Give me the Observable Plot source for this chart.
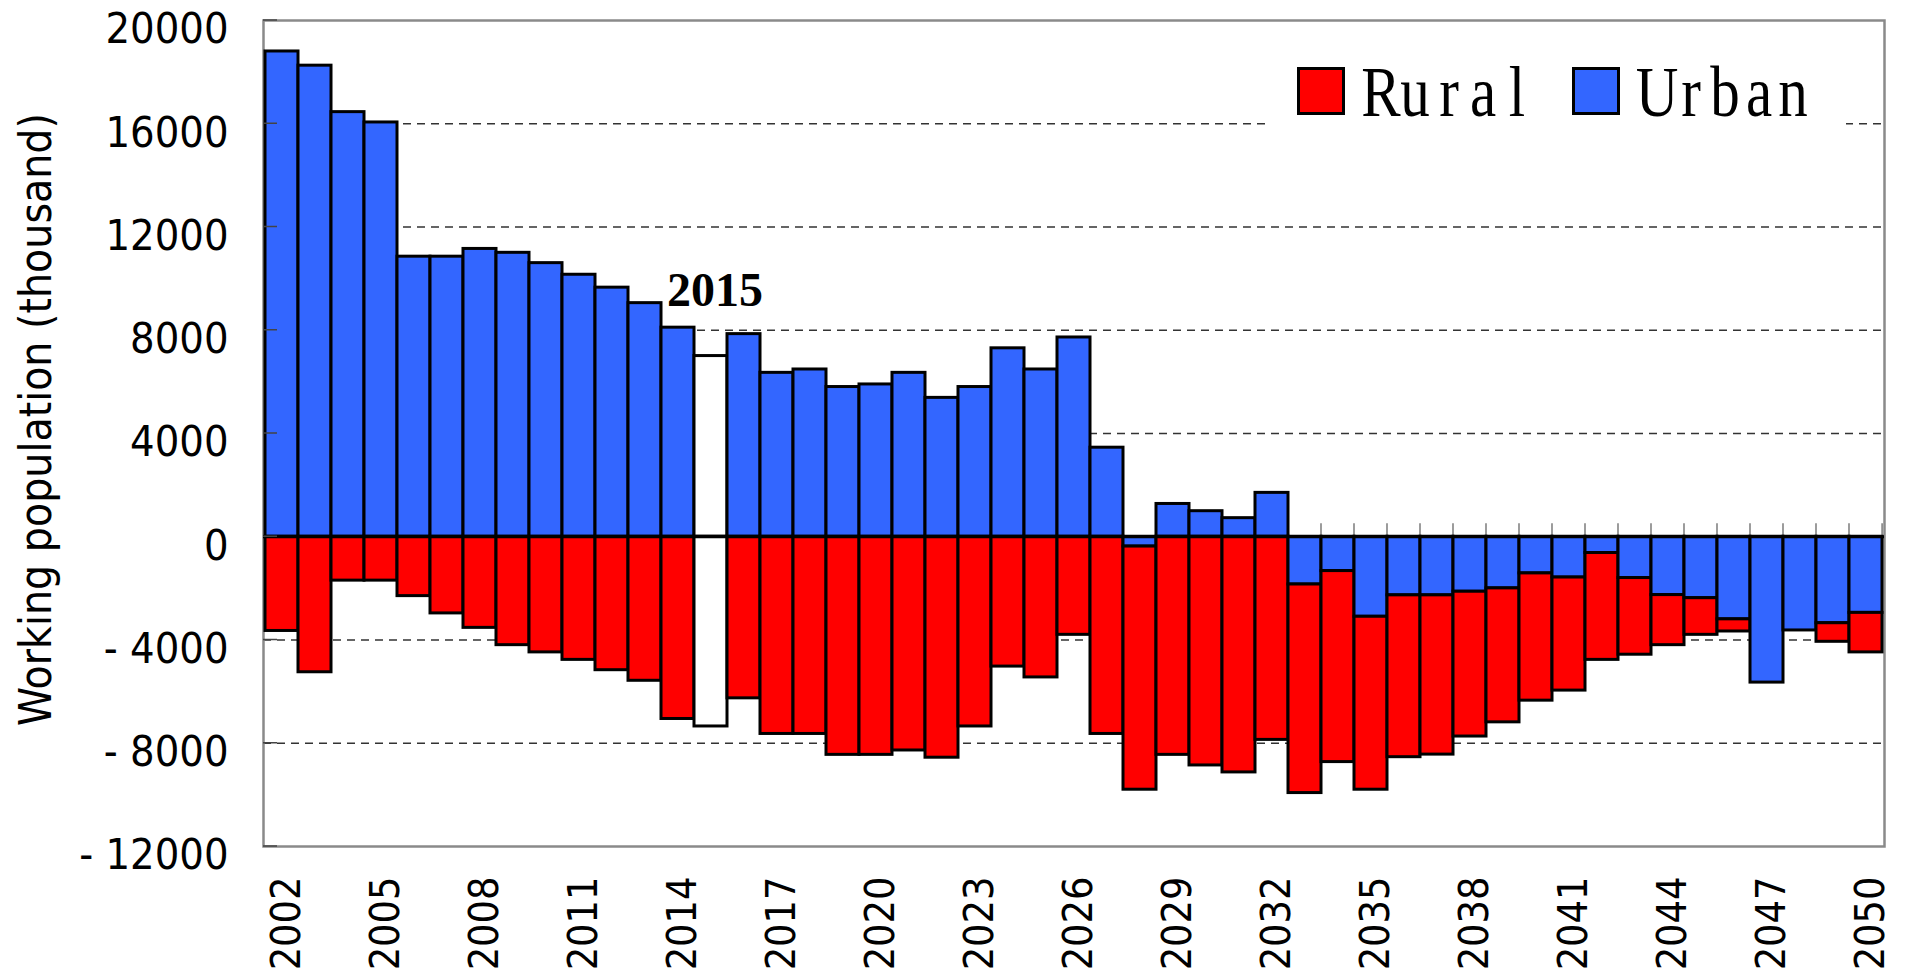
<!DOCTYPE html>
<html><head><meta charset="utf-8">
<script src="https://cdn.jsdelivr.net/npm/d3@7"></script>
<script src="https://cdn.jsdelivr.net/npm/@observablehq/plot@0.6"></script>
<style>
html,body{margin:0;padding:0;background:#fff;}
#wrap{position:relative;width:1908px;height:970px;overflow:hidden;}
#legend{position:absolute;left:0;top:0;}
</style></head>
<body><div id="wrap"><div id="chart"></div><svg id="legend" width="1908" height="200"></svg></div>
<script>
// ---- data (thousand persons) ----
const years = [2002,2003,2004,2005,2006,2007,2008,2009,2010,2011,2012,2013,2014,2015,2016,2017,2018,2019,2020,2021,2022,2023,2024,2025,2026,2027,2028,2029,2030,2031,2032,2033,2034,2035,2036,2037,2038,2039,2040,2041,2042,2043,2044,2045,2046,2047,2048,2049,2050];
const urban = [18800,18250,16450,16050,10850,10850,11150,11000,10600,10150,9650,9050,8100,7000,7850,6350,6480,5800,5900,6350,5380,5800,7300,6480,7720,3450,-380,1270,990,720,1700,-1850,-1330,-3100,-2270,-2270,-2130,-2000,-1420,-1580,-630,-1600,-2260,-2380,-3200,-5650,-3630,-3350,-2950];
const rural = [-3650,-5250,-1700,-1700,-2300,-2970,-3530,-4200,-4480,-4770,-5170,-5580,-7060,-7350,-6260,-7640,-7640,-8450,-8450,-8280,-8560,-7350,-5030,-5450,-3800,-7640,-9420,-8450,-8860,-9130,-7870,-8080,-7400,-6700,-6270,-6170,-5610,-5190,-4930,-4380,-4140,-2970,-1940,-1420,-470,0,0,-720,-1530];
const seriesNames = ["Rural","Urban"];
const seriesColors = {Rural:"#FF0000", Urban:"#3366FF"};
const highlightYear = 2015;
const xTickYears = [2002,2005,2008,2011,2014,2017,2020,2023,2026,2029,2032,2035,2038,2041,2044,2047,2050];
const yTicks = [20000,16000,12000,8000,4000,0,-4000,-8000,-12000];
const gridValues = [16000,12000,8000,4000,-4000,-8000];
const yTitle = "Working population (thousand)";

const rows = years.flatMap((yr,i)=>[
  {year:yr, series:"Urban", value:urban[i]},
  {year:yr, series:"Rural", value:rural[i]}
]);

const W=1908, H=970, ML=263, MR=24, MT=20, MB=124;
const bw = (W-ML-MR)/years.length;
const fontMain = '"DejaVu Sans Condensed","DejaVu Sans",sans-serif';

function leftTicks(index, scales, values, dims){
  const g = d3.create("svg:g");
  for (const v of yTicks){
    const y = scales.y(v);
    g.append("line").attr("x1",dims.marginLeft).attr("x2",dims.marginLeft+14)
      .attr("y1",y).attr("y2",y).attr("stroke","#444").attr("stroke-width",1.5);
  }
  return g.node();
}
function boundaryTicks(index, scales, values, dims){
  const g = d3.create("svg:g");
  const y0 = scales.y(0);
  const edges = years.map(yr=>scales.x(yr)).concat([scales.x(years[years.length-1])+bw]);
  for (const x of edges){
    g.append("line").attr("x1",x).attr("x2",x).attr("y1",y0).attr("y2",y0-13)
      .attr("stroke","#666").attr("stroke-width",1.3);
  }
  return g.node();
}

const chart = Plot.plot({
  width:W, height:H,
  marginLeft:ML, marginRight:MR, marginTop:MT, marginBottom:MB,
  style:{fontFamily:fontMain, fontStretch:"condensed", fontSize:"43px", color:"#000", background:"#fff", overflow:"visible"},
  x:{type:"band", domain:years, padding:0},
  y:{domain:[-12000,20000]},
  color:{type:"identity"},
  marks:[
    Plot.ruleY(gridValues,{stroke:"#333",strokeWidth:1.3,strokeDasharray:"8,6"}),
    Plot.frame({stroke:"#8a8a8a",strokeWidth:2.5}),
    boundaryTicks,
    Plot.barY(rows,{x:"year",y:"value",z:"series",order:["Urban","Rural"],
      fill:d=>d.year===highlightYear?"#ffffff":seriesColors[d.series],
      stroke:"#000",strokeWidth:3,inset:0}),
    Plot.ruleY([0],{stroke:"#000",strokeWidth:3}),
    leftTicks,
    Plot.axisY(yTicks,{tickSize:0,tickPadding:35,dy:9,label:null,fontSize:43,
      tickFormat:v=>v<0?"- "+(-v):String(v)}),
    Plot.axisX(xTickYears,{tickSize:0,tickPadding:30,tickRotate:-90,dx:5,label:null,fontSize:41,
      tickFormat:d=>String(d)}),
    Plot.text([yTitle],{text:d=>d,frameAnchor:"left",textAnchor:"middle",dx:-227,dy:-14,rotate:-90,fontSize:44}),
    Plot.text([{year:highlightYear,value:urban[years.indexOf(highlightYear)]}],
      {x:"year",y:"value",text:d=>String(d.year),dy:-65,dx:4,fontFamily:"Liberation Serif, serif",fontWeight:"bold",fontSize:48})
  ]
});
document.getElementById("chart").appendChild(chart);

// legend (inside plot, top-right) — monospaced serif look: each glyph centred in a fixed cell
const lg = d3.select("#legend");
lg.append("rect").attr("x",1270).attr("y",40).attr("width",576).attr("height",100).attr("fill","#fff");
const items = [
  {name:"Rural", sx:1297, cx:1381},
  {name:"Urban", sx:1572, cx:1657}
];
const cell = 34, sx = 0.82;
for (const it of items){
  lg.append("rect").attr("x",it.sx+1.5).attr("y",68.5).attr("width",45).attr("height",45)
    .attr("fill",seriesColors[it.name]).attr("stroke","#000").attr("stroke-width",3);
  const t = lg.append("text").attr("transform",`translate(${it.cx},116) scale(${sx},1)`)
    .attr("font-family","Liberation Serif, serif").attr("font-size",72).attr("fill","#000")
    .attr("text-anchor","middle");
  it.name.split("").forEach((ch,k)=>{
    t.append("tspan").attr("x",k*cell/sx).attr("y",0).text(ch);
  });
}
</script>
</body></html>
